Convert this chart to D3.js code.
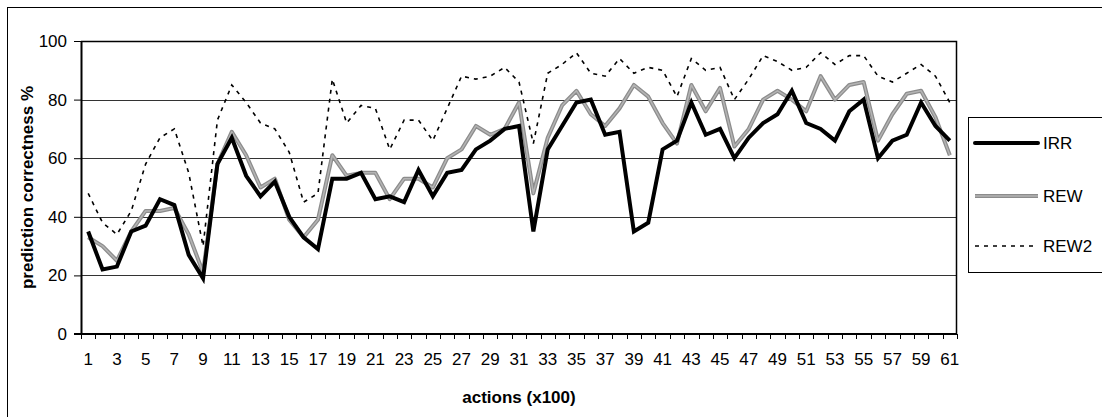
<!DOCTYPE html>
<html>
<head>
<meta charset="utf-8">
<script src="https://cdn.jsdelivr.net/npm/d3@7"></script>
<style>
  html, body { margin: 0; padding: 0; background: #fff; }
  svg { display: block; font-family: "Liberation Sans", Arial, sans-serif; }
</style>
</head>
<body>
<svg id="chart" width="1102" height="417"></svg>
<script>
const actions = d3.range(1, 62);

const irr = [35, 22, 23, 35, 37, 46, 44, 27, 19, 58, 67, 54, 47, 52, 40, 33, 29, 53, 53, 55,
  46, 47, 45, 56, 47, 55, 56, 63, 66, 70, 71, 35, 63, 71, 79, 80, 68, 69, 35, 38,
  63, 66, 79, 68, 70, 60, 67, 72, 75, 83, 72, 70, 66, 76, 80, 60, 66, 68, 79, 71, 66];

const rew = [33, 30, 25, 35, 42, 42, 43, 34, 21, 58, 69, 61, 50, 53, 39, 33, 39, 61, 54, 55,
  55, 46, 53, 53, 50, 60, 63, 71, 68, 70, 79, 48, 67, 78, 83, 75, 71, 77, 85, 81,
  72, 65, 85, 76, 84, 64, 70, 80, 83, 80, 76, 88, 80, 85, 86, 66, 75, 82, 83, 74, 61];

const rew2 = [48, 38, 34, 42, 58, 67, 70, 55, 30, 73, 85, 79, 72, 70, 62, 45, 48, 87, 72, 78,
  77, 63, 73, 73, 66, 77, 88, 87, 88, 91, 86, 65, 89, 92, 96, 89, 88, 94, 89, 91,
  90, 81, 94, 90, 91, 80, 87, 95, 93, 90, 91, 96, 92, 95, 95, 88, 86, 89, 92, 88, 79];

const yTicks = [0, 20, 40, 60, 80, 100];
const xLabels = actions.filter(d => d % 2 === 1);
const seriesNames = ["IRR", "REW", "REW2"];

const fontSize = 17;
const svg = d3.select("#chart");
const margin = { left: 81, right: 957, top: 41, bottom: 334 };

const x = d3.scaleBand().domain(actions).range([margin.left, margin.right]);
const y = d3.scaleLinear().domain([0, 100]).range([margin.bottom, margin.top]);

// outer chart border (runs past the window on right/bottom)
svg.append("rect")
  .attr("x", 7.5).attr("y", 7.5)
  .attr("width", 1120).attr("height", 440)
  .attr("fill", "none").attr("stroke", "#000").attr("stroke-width", 1);

// grid lines
svg.append("g")
  .selectAll("line")
  .data(yTicks.filter(d => d > 0 && d < 100))
  .join("line")
  .attr("x1", margin.left).attr("x2", margin.right)
  .attr("y1", d => Math.round(y(d)) + 0.5).attr("y2", d => Math.round(y(d)) + 0.5)
  .attr("stroke", "#333").attr("stroke-width", 1);

// plot area frame top/right
svg.append("path")
  .attr("d", `M${margin.left},${margin.top + 0.5}H${margin.right - 0.5}V${margin.bottom}`)
  .attr("fill", "none").attr("stroke", "#000").attr("stroke-width", 1.5);

// y axis
const yAxis = svg.append("g")
  .attr("transform", `translate(${margin.left},0)`)
  .call(d3.axisLeft(y).tickValues(yTicks).tickSize(7).tickPadding(7).tickSizeOuter(0));
yAxis.select(".domain").attr("stroke-width", 2);
yAxis.selectAll("text").attr("font-size", fontSize).attr("fill", "#000")
  .attr("font-family", "Liberation Sans, Arial, sans-serif");

// x axis: ticks between categories, labels on odd ones
const xAxis = svg.append("g")
  .attr("transform", `translate(0,${margin.bottom})`)
  .call(d3.axisBottom(x).tickValues(xLabels).tickSize(0).tickPadding(19));
xAxis.select(".domain").remove();
xAxis.selectAll("text").attr("font-size", fontSize).attr("fill", "#000")
  .attr("font-family", "Liberation Sans, Arial, sans-serif");

const bounds = actions.map(d => x(d)).concat([margin.right]);
svg.append("g")
  .selectAll("line")
  .data(bounds)
  .join("line")
  .attr("x1", d => Math.round(d) + 0.5).attr("x2", d => Math.round(d) + 0.5)
  .attr("y1", margin.bottom).attr("y2", margin.bottom + 5)
  .attr("stroke", "#000").attr("stroke-width", 1);

svg.append("line")
  .attr("x1", margin.left - 7).attr("x2", margin.right)
  .attr("y1", margin.bottom).attr("y2", margin.bottom)
  .attr("stroke", "#000").attr("stroke-width", 2);

// titles
svg.append("text")
  .attr("x", (margin.left + margin.right) / 2).attr("y", 397)
  .attr("dy", "0.35em").attr("text-anchor", "middle")
  .attr("font-size", fontSize).attr("font-weight", "bold")
  .text("actions (x100)");

svg.append("text")
  .attr("transform", `translate(27,${(margin.top + margin.bottom) / 2}) rotate(-90)`)
  .attr("dy", "0.35em").attr("text-anchor", "middle")
  .attr("font-size", fontSize).attr("font-weight", "bold")
  .text("prediction correctness %");

// series
const line = d3.line()
  .x((d, i) => x(actions[i]) + x.bandwidth() / 2)
  .y(d => y(d));

const plot = svg.append("g");

plot.append("path").datum(rew2)
  .attr("d", line).attr("fill", "none")
  .attr("stroke", "#000").attr("stroke-width", 1.6)
  .attr("stroke-dasharray", "4,5");

plot.append("path").datum(rew)
  .attr("d", line).attr("fill", "none")
  .attr("stroke", "#8c8c8c").attr("stroke-width", 4)
  .attr("stroke-linejoin", "round");
plot.append("path").datum(rew)
  .attr("d", line).attr("fill", "none")
  .attr("stroke", "#b4b4b4").attr("stroke-width", 1.5)
  .attr("stroke-linejoin", "round");

plot.append("path").datum(irr)
  .attr("d", line).attr("fill", "none")
  .attr("stroke", "#000").attr("stroke-width", 4)
  .attr("stroke-linejoin", "miter");

// legend
const legend = svg.append("g");
legend.append("rect")
  .attr("x", 968.5).attr("y", 117.5)
  .attr("width", 200).attr("height", 155)
  .attr("fill", "#fff").attr("stroke", "#000").attr("stroke-width", 1);

const legendY = [143, 196, 246];

seriesNames.forEach((name, i) => {
  const g = legend.append("g").attr("transform", `translate(0,${legendY[i]})`);
  if (name === "IRR") {
    g.append("line").attr("x1", 975).attr("x2", 1038)
      .attr("stroke", "#000").attr("stroke-width", 4).attr("stroke-linecap", "round");
  } else if (name === "REW") {
    g.append("line").attr("x1", 975).attr("x2", 1038)
      .attr("stroke", "#8c8c8c").attr("stroke-width", 4);
    g.append("line").attr("x1", 975).attr("x2", 1038)
      .attr("stroke", "#b4b4b4").attr("stroke-width", 1.5);
  } else {
    g.append("line").attr("x1", 975).attr("x2", 1038)
      .attr("stroke", "#000").attr("stroke-width", 1.6).attr("stroke-dasharray", "4,5");
  }
  g.append("text").attr("x", 1043).attr("dy", "0.35em")
    .attr("font-size", fontSize).text(name);
});
</script>
</body>
</html>
